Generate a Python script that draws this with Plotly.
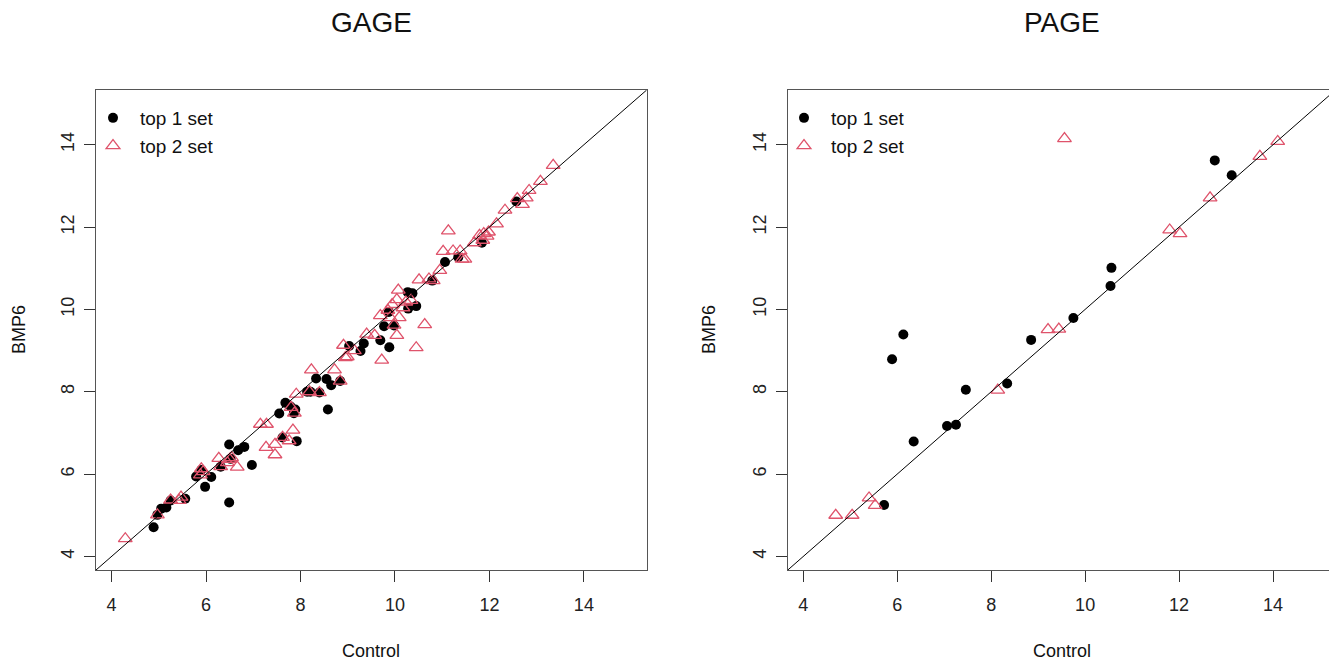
import plotly.graph_objects as go

# ---------------- data ----------------
AX_RANGE = [3.67, 15.33]
TICKS = [4, 6, 8, 10, 12, 14]

gage_top1_x = [4.89, 5.05, 5.16, 5.56, 5.79, 5.98, 6.11, 6.49, 6.49, 6.68, 6.81, 6.97,
               7.55, 7.68, 7.89, 7.92, 7.62, 7.79, 7.86, 8.14, 8.21, 8.33, 8.40, 8.55,
               8.65, 8.58, 8.84, 9.03, 9.27, 9.34, 9.69, 9.88, 9.77, 9.98, 9.87, 10.27,
               10.37, 10.45, 10.28, 10.79, 11.06, 11.34, 11.84, 12.57, 6.31, 6.52, 5.25,
               4.97, 5.90]
gage_top1_y = [4.71, 5.16, 5.19, 5.40, 5.94, 5.69, 5.93, 5.31, 6.72, 6.58, 6.66, 6.22,
               7.47, 7.73, 7.57, 6.80, 6.89, 7.64, 7.48, 8.00, 8.00, 8.32, 7.98, 8.31,
               8.16, 7.57, 8.26, 9.11, 8.99, 9.17, 9.25, 9.08, 9.59, 9.61, 9.94, 10.42,
               10.39, 10.08, 10.02, 10.70, 11.15, 11.27, 11.62, 12.62, 6.18, 6.37, 5.36,
               5.01, 6.10]

gage_top2_x = [4.29, 4.97, 5.25, 5.43, 5.47, 5.90, 5.94, 5.88, 6.27, 6.31, 6.45, 6.50,
               6.54, 6.66, 7.15, 7.28, 7.27, 7.46, 7.46, 7.62, 7.84, 7.76, 7.80, 7.87,
               7.91, 8.23, 8.19, 8.40, 8.72, 8.84, 8.91, 8.95, 8.99, 9.14, 9.40, 9.57,
               9.72, 9.69, 9.85, 9.90, 9.94, 9.98, 10.04, 10.07, 10.09, 10.04, 10.17,
               10.23, 10.34, 10.45, 10.51, 10.63, 10.72, 10.81, 10.95, 11.02, 11.13,
               11.23, 11.38, 11.42, 11.48, 11.68, 11.79, 11.88, 11.98, 11.95, 12.15,
               12.33, 12.59, 12.70, 12.78, 12.84, 13.08, 13.35, 11.86]
gage_top2_y = [4.43, 5.01, 5.37, 5.36, 5.44, 6.13, 6.06, 5.98, 6.38, 6.18, 6.28, 6.36,
               6.40, 6.17, 7.21, 7.21, 6.65, 6.72, 6.47, 6.89, 7.07, 6.81, 7.62, 7.48,
               7.94, 8.53, 8.00, 7.98, 8.53, 8.26, 9.13, 8.83, 8.85, 9.00, 9.40, 9.37,
               8.77, 9.85, 9.98, 9.80, 10.12, 9.62, 10.24, 10.47, 9.80, 9.37, 10.04,
               10.18, 10.22, 9.07, 10.72, 9.63, 10.74, 10.70, 10.95, 11.41, 11.91,
               11.42, 11.42, 11.22, 11.22, 11.62, 11.80, 11.84, 11.88, 11.78, 12.08,
               12.41, 12.69, 12.55, 12.71, 12.89, 13.11, 13.50, 11.68]

page_top1_x = [12.76, 13.12, 10.56, 10.54, 9.75, 8.85, 8.34, 7.46, 7.25, 7.06, 6.35,
               6.13, 5.89, 5.72]
page_top1_y = [13.62, 13.26, 11.01, 10.57, 9.79, 9.26, 8.20, 8.05, 7.20, 7.17, 6.79,
               9.39, 8.79, 5.25]

page_top2_x = [9.56, 14.10, 13.72, 12.66, 11.80, 12.02, 9.44, 9.21, 8.14, 5.40, 5.53,
               5.04, 4.69]
page_top2_y = [14.15, 14.08, 13.72, 12.71, 11.93, 11.84, 9.52, 9.51, 8.04, 5.42, 5.24,
               5.00, 5.00]

panel_titles = ["GAGE", "PAGE"]
x_label = "Control"
y_label = "BMP6"
series_names = ["top 1 set", "top 2 set"]

# ---------------- style ----------------
FONT = "Liberation Sans, Arial, Helvetica, sans-serif"
RED = "#DF536B"
OFF = 8                      # default page body margin
W, H = 1337 - OFF, 662 - OFF


def px_x(p):
    return (p - OFF) / W


def px_y(p):
    return 1 - (p - OFF) / H


dom_left = [px_x(96), px_x(646.7)]
dom_right = [px_x(787.8), px_x(1335.5)]
dom_y = [px_y(570), px_y(90)]

fig = go.Figure()

panels = [
    (gage_top1_x, gage_top1_y, gage_top2_x, gage_top2_y, "x", "y", "legend"),
    (page_top1_x, page_top1_y, page_top2_x, page_top2_y, "x2", "y2", "legend2"),
]
for x1, y1, x2, y2, xa, ya, lg in panels:
    fig.add_trace(go.Scatter(
        x=x1, y=y1, mode="markers", name=series_names[0], xaxis=xa, yaxis=ya,
        legend=lg, marker=dict(symbol="circle", size=10, color="black",
                               line=dict(width=0))))
    fig.add_trace(go.Scatter(
        x=x2, y=y2, mode="markers", name=series_names[1], xaxis=xa, yaxis=ya,
        legend=lg, marker=dict(symbol="triangle-up-open", size=12, color=RED,
                               line=dict(width=1.3, color=RED))))
    fig.add_shape(type="line", xref=xa, yref=ya,
                  x0=AX_RANGE[0], y0=AX_RANGE[0], x1=AX_RANGE[1], y1=AX_RANGE[1],
                  line=dict(color="black", width=1))

axis_common = dict(range=AX_RANGE, tickvals=TICKS, ticks="outside", ticklen=11,
                   tickwidth=1, tickcolor="#333", showline=True, mirror=True,
                   linecolor="#555", linewidth=1.2, showgrid=False, zeroline=False,
                   tickfont=dict(size=18, color="#222", family=FONT))

legend_common = dict(xanchor="left", yanchor="top", bgcolor="rgba(0,0,0,0)",
                     font=dict(size=19, family=FONT, color="#111"),
                     tracegroupgap=0, itemwidth=44, itemclick=False)

fig.update_layout(
    width=W, height=H,
    margin=dict(l=0, r=0, t=0, b=0),
    paper_bgcolor="white", plot_bgcolor="white",
    font=dict(family=FONT, color="#111"),
    xaxis=dict(domain=dom_left, anchor="y", ticklabelstandoff=7, **axis_common),
    yaxis=dict(domain=dom_y, anchor="x", tickangle=-90, ticklabelstandoff=3,
               **axis_common),
    xaxis2=dict(domain=dom_right, anchor="y2", ticklabelstandoff=7, **axis_common),
    yaxis2=dict(domain=dom_y, anchor="x2", tickangle=-90, ticklabelstandoff=3,
                **axis_common),
    legend=dict(x=px_x(86), y=px_y(99), **legend_common),
    legend2=dict(x=px_x(777), y=px_y(99), **legend_common),
    showlegend=True,
)

annots = [
    (panel_titles[0], (dom_left[0] + dom_left[1]) / 2, px_y(23), 28, 0),
    (panel_titles[1], (dom_right[0] + dom_right[1]) / 2, px_y(23), 28, 0),
    (x_label, (dom_left[0] + dom_left[1]) / 2, px_y(651), 18, 0),
    (x_label, (dom_right[0] + dom_right[1]) / 2, px_y(651), 18, 0),
    (y_label, px_x(19), (dom_y[0] + dom_y[1]) / 2, 18, -90),
    (y_label, px_x(709), (dom_y[0] + dom_y[1]) / 2, 18, -90),
]
for text, x, y, size, ang in annots:
    fig.add_annotation(text=text, x=x, y=y, xref="paper", yref="paper",
                       xanchor="center", yanchor="middle", showarrow=False,
                       textangle=ang, font=dict(size=size, family=FONT, color="#111"))

fig.write_html("out.html")
